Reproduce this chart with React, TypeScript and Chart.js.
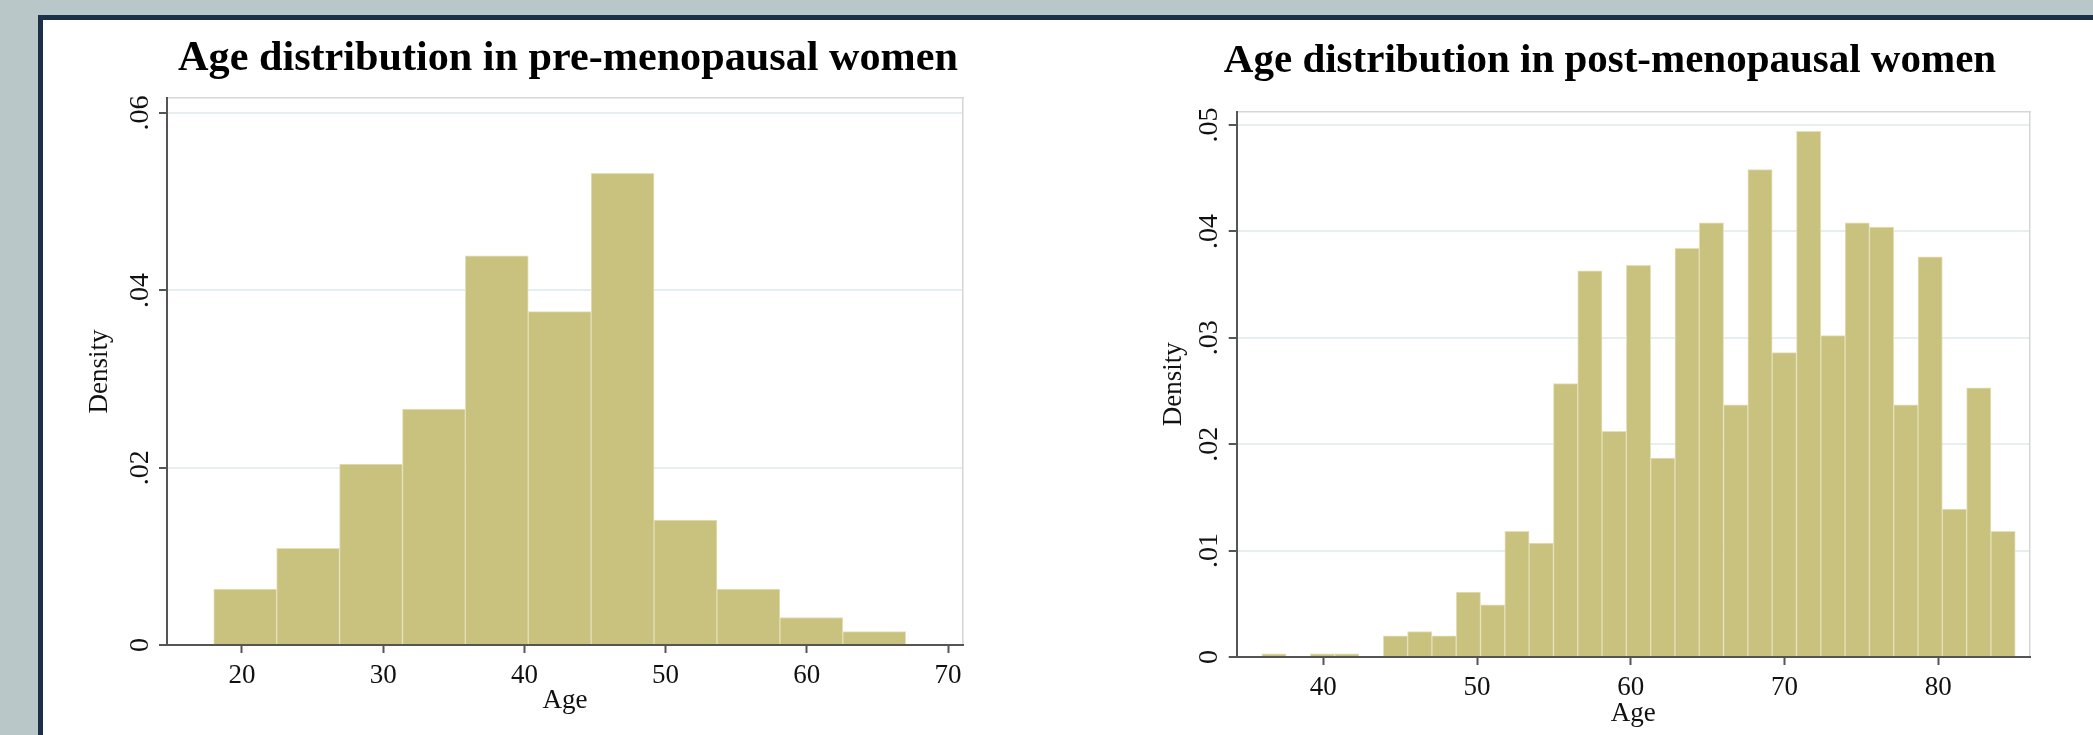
import React, { useEffect, useRef } from "react";
import { Chart, registerables } from "chart.js";

Chart.register(...registerables);
Chart.defaults.font.family = "'Liberation Serif', 'Times New Roman', serif";

// ---------- data ----------
const preTitle = "Age distribution in pre-menopausal women";
const preBinStart = 18;
const preBinEnd = 67;
const preDensity = [0.0063, 0.0109, 0.0204, 0.0266, 0.0439, 0.0376, 0.0532, 0.0141, 0.0063, 0.0031, 0.0015];
const preXTicks = [20, 30, 40, 50, 60, 70];
const preYTicks = [0, 0.02, 0.04, 0.06];
const preYTickLabels = ["0", ".02", ".04", ".06"];

const postTitle = "Age distribution in post-menopausal women";
const postBinStart = 36;
const postBinEnd = 85;
const postDensity = [
  0.0003, 0, 0.0003, 0.0003, 0, 0.002, 0.0024, 0.002, 0.0061, 0.0049, 0.0118,
  0.0107, 0.0257, 0.0363, 0.0212, 0.0368, 0.0187, 0.0384, 0.0408, 0.0237, 0.0458,
  0.0286, 0.0494, 0.0302, 0.0408, 0.0404, 0.0237, 0.0376, 0.0139, 0.0253, 0.0118,
];
const postXTicks = [40, 50, 60, 70, 80];
const postYTicks = [0, 0.01, 0.02, 0.03, 0.04, 0.05];
const postYTickLabels = ["0", ".01", ".02", ".03", ".04", ".05"];

const xTitle = "Age";
const yTitle = "Density";

// ---------- styles ----------
const BAR_FILL = "rgb(201,194,127)";
const BAR_EDGE = "rgb(228,224,184)";
const AXIS = "#555555";
const GRID = "#e6eef0";
const FRAME_EDGE = "#d6d6d6";
const TEXT = "#111111";

type Spec = {
  title: string;
  titleSize: number;
  binStart: number;
  binEnd: number;
  density: number[];
  xTicks: number[];
  yTicks: number[];
  yTickLabels: string[];
  left: number;
  top: number;
  width: number;
  height: number;
  titlePadTop: number;
  titlePadBottom: number;
  xMin: number;
  xMax: number;
  yMax: number;
  yAxisWidth: number;
  yTitlePad: number;
  xAxisHeight: number;
  xTitlePadBottom: number;
  y2Width: number;
  xTickPad: number;
  yTickPad: number;
};

const preSpec: Spec = {
  title: preTitle,
  titleSize: 42.2,
  binStart: preBinStart,
  binEnd: preBinEnd,
  density: preDensity,
  xTicks: preXTicks,
  yTicks: preYTicks,
  yTickLabels: preYTickLabels,
  left: 45,
  top: 19,
  width: 1046,
  height: 716,
  titlePadTop: 14.7,
  titlePadBottom: 13.7,
  xMin: 14.69,
  xMax: 71.06,
  yMax: 0.0617,
  yAxisWidth: 122,
  yTitlePad: 38.8,
  xAxisHeight: 90,
  xTitlePadBottom: 18,
  y2Width: 128,
  xTickPad: 6.8,
  yTickPad: 1,
};

const postSpec: Spec = {
  title: postTitle,
  titleSize: 41,
  binStart: postBinStart,
  binEnd: postBinEnd,
  density: postDensity,
  xTicks: postXTicks,
  yTicks: postYTicks,
  yTickLabels: postYTickLabels,
  left: 1130,
  top: 19,
  width: 960,
  height: 716,
  titlePadTop: 17.4,
  titlePadBottom: 26.1,
  xMin: 34.37,
  xMax: 85.96,
  yMax: 0.05125,
  yAxisWidth: 106.7,
  yTitlePad: 27.8,
  xAxisHeight: 78,
  xTitlePadBottom: 5,
  y2Width: 60,
  xTickPad: 6.8,
  yTickPad: 2,
};

function HistChart({ spec }: { spec: Spec }) {
  const ref = useRef<HTMLCanvasElement | null>(null);

  useEffect(() => {
    if (!ref.current) return;
    const n = spec.density.length;
    const bw = (spec.binEnd - spec.binStart) / n;
    const points = spec.density.map((d, i) => ({ x: spec.binStart + (i + 0.5) * bw, y: d }));

    const chart = new Chart(ref.current, {
      type: "bar",
      data: {
        datasets: [
          {
            data: points,
            backgroundColor: BAR_FILL,
            borderColor: BAR_EDGE,
            borderWidth: 1,
            borderSkipped: "start",
            categoryPercentage: 1,
            barPercentage: 1,
            xAxisID: "x",
            yAxisID: "y",
          },
        ],
      },
      options: {
        animation: false,
        responsive: false,
        devicePixelRatio: 1,
        layout: { padding: 0 },
        plugins: {
          legend: { display: false },
          tooltip: { enabled: false },
          title: {
            display: true,
            text: spec.title,
            color: "#000",
            fullSize: true,
            font: { size: spec.titleSize, weight: "bold", lineHeight: 1.2 },
            padding: { top: spec.titlePadTop, bottom: spec.titlePadBottom },
          },
        },
        scales: {
          x: {
            type: "linear",
            position: "bottom",
            min: spec.xMin,
            max: spec.xMax,
            offset: false,
            afterBuildTicks: (s: any) => {
              s.ticks = spec.xTicks.map((v) => ({ value: v }));
            },
            afterFit: (s: any) => {
              s.height = spec.xAxisHeight;
            },
            ticks: {
              autoSkip: false,
              minRotation: 0,
              maxRotation: 0,
              padding: spec.xTickPad,
              color: TEXT,
              font: { size: 27 },
              callback: (v: any) => String(v),
            },
            grid: {
              offset: false,
              drawOnChartArea: false,
              drawTicks: true,
              tickLength: 8,
              tickColor: AXIS,
              tickWidth: 2,
            },
            border: { display: true, color: AXIS, width: 2, z: 1 },
            title: {
              display: true,
              text: xTitle,
              color: TEXT,
              font: { size: 27, lineHeight: 1.2 },
              padding: { top: 0, bottom: spec.xTitlePadBottom },
            },
          },
          x2: {
            type: "linear",
            position: "top",
            display: true,
            min: spec.xMin,
            max: spec.xMax,
            afterFit: (s: any) => {
              s.height = 0;
            },
            ticks: { display: false },
            grid: { display: false, drawTicks: false, offset: false },
            border: { display: true, color: FRAME_EDGE, width: 1.5 },
          },
          y: {
            type: "linear",
            position: "left",
            min: 0,
            max: spec.yMax,
            afterBuildTicks: (s: any) => {
              s.ticks = spec.yTicks.map((v) => ({ value: v }));
            },
            afterFit: (s: any) => {
              s.width = spec.yAxisWidth;
            },
            ticks: {
              autoSkip: false,
              minRotation: 90,
              maxRotation: 90,
              crossAlign: "center",
              padding: spec.yTickPad,
              color: TEXT,
              font: { size: 28 },
              callback: (v: any) => {
                const i = spec.yTicks.findIndex((t) => Math.abs(t - v) < 1e-9);
                return i >= 0 ? spec.yTickLabels[i] : "";
              },
            },
            grid: {
              color: GRID,
              lineWidth: 2,
              drawTicks: true,
              tickLength: 8,
              tickColor: AXIS,
              tickWidth: 2,
            },
            border: { display: true, color: AXIS, width: 2, z: 1 },
            title: {
              display: true,
              text: yTitle,
              color: TEXT,
              font: { size: 27, lineHeight: 1.2 },
              padding: { top: spec.yTitlePad, bottom: 0 },
            },
          },
          y2: {
            type: "linear",
            position: "right",
            display: true,
            min: 0,
            max: spec.yMax,
            afterFit: (s: any) => {
              s.width = spec.y2Width;
            },
            ticks: { display: false },
            grid: { display: false, drawTicks: false },
            border: { display: true, color: FRAME_EDGE, width: 1.5 },
          },
        },
      } as any,
    });
    return () => chart.destroy();
  }, [spec]);

  return (
    <canvas
      ref={ref}
      width={spec.width}
      height={spec.height}
      style={{
        position: "absolute",
        left: spec.left,
        top: spec.top,
        width: spec.width,
        height: spec.height,
      }}
    />
  );
}

export default function App() {
  return (
    <div
      style={{
        position: "fixed",
        left: 0,
        top: 0,
        width: 2093,
        height: 735,
        overflow: "hidden",
        background: "#b9c7c9",
      }}
    >
      <div
        style={{
          position: "absolute",
          left: 38,
          top: 15,
          width: 2200,
          height: 900,
          boxSizing: "border-box",
          border: "5.5px solid #1e3049",
          background: "#ffffff",
        }}
      />
      <HistChart spec={preSpec} />
      <HistChart spec={postSpec} />
    </div>
  );
}
